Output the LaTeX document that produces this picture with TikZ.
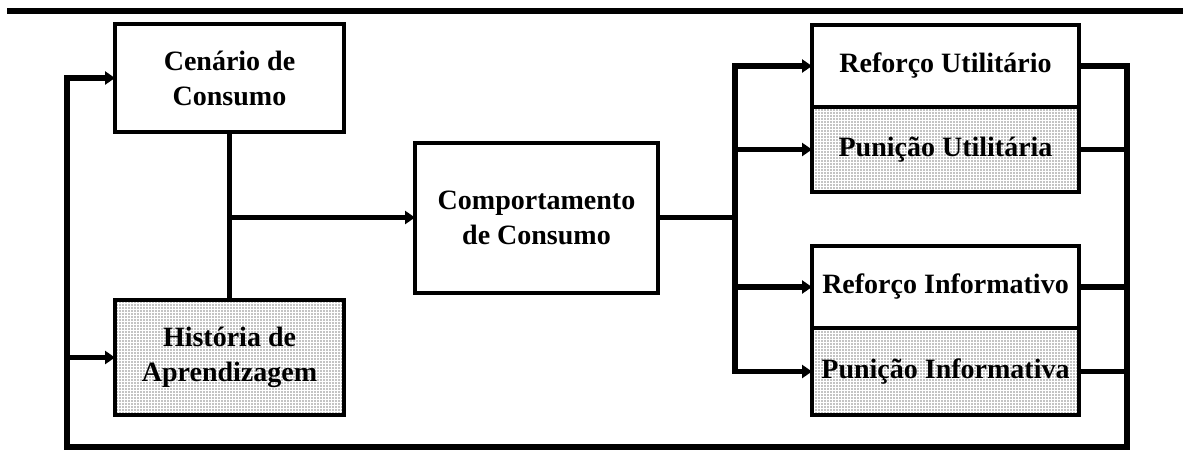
\documentclass[tikz,border=0pt]{standalone}
\usepackage{fontspec}
\setmainfont{Liberation Serif}
\usetikzlibrary{arrows.meta,patterns.meta}
\tikzset{
  box/.style={draw, line width=2pt, inner sep=0pt, outer sep=0pt, align=center,
    font=\bfseries\fontsize{14}{17.5}\selectfont, fill=white},
  shaded/.style={box, pattern={Dots[distance=1.5pt,radius=0.3pt]}},
  conn/.style={line width=2.8pt, line join=miter},
  vconn/.style={conn, line cap=rect},
  arr/.style={conn, -{Triangle[length=5pt,width=6.5pt]}},
}
\begin{document}
\begin{tikzpicture}[x=0.5pt,y=-0.5pt]
\useasboundingbox (0,0) rectangle (1183,452);
% top rule
\draw[line width=3pt] (7,11) -- (1183,11);
% nodes
\node[box, minimum width=114.5pt, minimum height=54pt] (cen) at (229.5,78) {Cenário de\\Consumo};
\node[shaded, minimum width=114.5pt, minimum height=57.5pt] (hist) at (229.5,357.5) {História de\\Aprendizagem};
\node[box, minimum width=121.5pt, minimum height=75pt] (comp) at (536.5,217.5) {Comportamento\\de Consumo};
\node[box, minimum width=133.5pt, minimum height=41pt] (ru) at (945.5,66) {Reforço Utilitário};
\node[shaded, minimum width=133.5pt, minimum height=42.5pt] (pu) at (945.5,149.5) {Punição Utilitária};
\node[box, minimum width=133.5pt, minimum height=41pt] (ri) at (945.5,287) {Reforço Informativo};
\node[shaded, minimum width=133.5pt, minimum height=43.5pt] (pi) at (945.5,371.5) {Punição Informativa};
% helper coordinates
\coordinate (mx) at (735,218);
\coordinate (br) at (1127,447);
\coordinate (bl) at (67,447);
% left side
\draw[conn] (cen.south) -- (hist.north);
\draw[arr] (cen.south |- comp.west) -- (comp.west);
% middle fan-out
\draw[conn] (comp.east) -- (comp.east -| mx);
\draw[vconn] (mx |- ru.west) -- (mx |- pi.west);
\draw[arr] (mx |- ru.west) -- (ru.west);
\draw[arr] (mx |- pu.west) -- (pu.west);
\draw[arr] (mx |- ri.west) -- (ri.west);
\draw[arr] (mx |- pi.west) -- (pi.west);
% feedback loop
\draw[arr] (ru.east) -| (br) -- (bl) |- (cen.west);
\draw[arr] (bl |- hist.west) -- (hist.west);
\draw[conn] (pu.east) -- (pu.east -| br);
\draw[conn] (ri.east) -- (ri.east -| br);
\draw[conn] (pi.east) -- (pi.east -| br);
\end{tikzpicture}
\end{document}
